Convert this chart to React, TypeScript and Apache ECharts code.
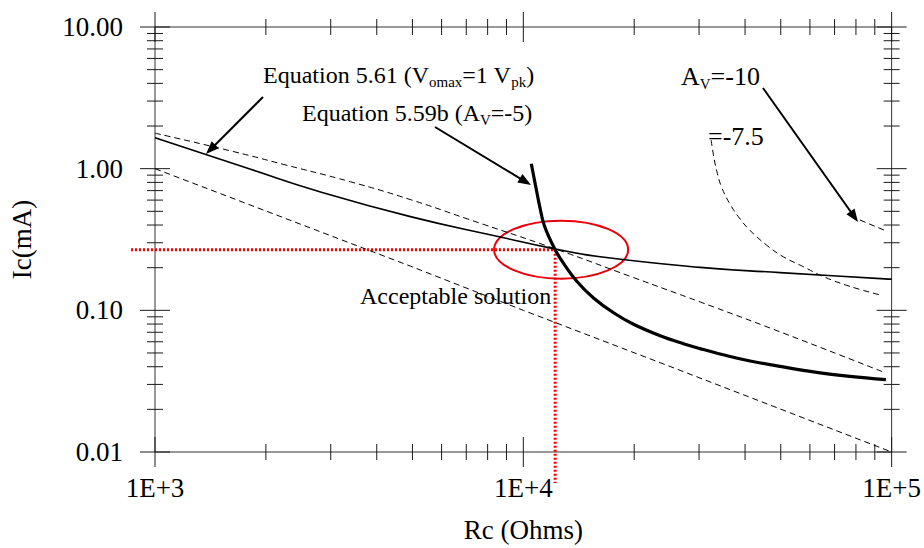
import React, { useEffect, useRef } from "react";
import * as echarts from "echarts";

const X_MIN = 1000;
const X_MAX = 100000;
const Y_MIN = 0.01;
const Y_MAX = 10;

const xMajorTicks = [1000, 10000, 100000];
const xMinorTicks = [2000, 3000, 4000, 5000, 6000, 7000, 8000, 9000, 20000, 30000, 40000, 50000, 60000, 70000, 80000, 90000];
const yMajorTicks = [0.01, 0.1, 1, 10];
const yMinorTicks = [0.02, 0.03, 0.04, 0.05, 0.06, 0.07, 0.08, 0.09, 0.2, 0.3, 0.4, 0.5, 0.6, 0.7, 0.8, 0.9, 2, 3, 4, 5, 6, 7, 8, 9];

// Equation 5.61 (Vomax = 1 Vpk) - thin solid
const rcEq561 = [1000, 1818, 2758, 4937, 8661, 12062, 16176, 30200, 49770, 95900, 100000];
const icEq561 = [1.655, 0.99, 0.696, 0.4585, 0.329, 0.2726, 0.2386, 0.201, 0.1846, 0.1668, 0.166];

// upper dashed
const rcUpper = [1000, 1638, 2239, 3395, 4937, 7036, 12157, 19918, 30200, 49770, 94900];
const icUpper = [1.78, 1.318, 1.07, 0.808, 0.605, 0.4426, 0.2726, 0.1703, 0.1146, 0.0705, 0.0367];

// lower dashed
const rcLower = [1000, 4940, 10000, 26660, 100000];
const icLower = [1.0, 0.205, 0.1, 0.0377, 0.01];

// Equation 5.59b (Av = -5) - thick
const rcEq559 = [10513, 10778, 11071, 11402, 12157, 12864, 13985, 15509, 17577, 19916, 23527, 27213, 30200, 36420, 41270, 49770, 62600, 77070, 96500];
const icEq559 = [1.083, 0.774, 0.547, 0.397, 0.2726, 0.2143, 0.1598, 0.1223, 0.0961, 0.0797, 0.0661, 0.0581, 0.0537, 0.0472, 0.0439, 0.0402, 0.0365, 0.0342, 0.0324];

// Av = -7.5 dashed
const rcAv75 = [32360, 32820, 33520, 34590, 36420, 38780, 41270, 45810, 50820, 57590, 65230, 77070, 93960];
const icAv75 = [1.593, 1.252, 0.959, 0.7335, 0.561, 0.4412, 0.3663, 0.2878, 0.2386, 0.2032, 0.1731, 0.1475, 0.1276];

// Av = -10 dashed
const rcAv10 = [82030, 95900];
const icAv10 = [0.434, 0.3663];

// acceptable solution point
const SOL_RC = 12200;
const SOL_IC = 0.268;

const SERIF = "'Liberation Serif', 'Times New Roman', serif";
const SUB = 15;

function pairs(xs: number[], ys: number[]) {
  return xs.map((x, i) => [x, ys[i]]);
}

export default function App() {
  const ref = useRef<HTMLDivElement>(null);

  useEffect(() => {
    if (!ref.current) return;
    const chart = echarts.init(ref.current, null, { renderer: "svg" });

    const canvas = document.createElement("canvas");
    const ctx = canvas.getContext("2d")!;
    const tw = (t: string, size: number) => {
      ctx.font = `${size}px 'Liberation Serif'`;
      return ctx.measureText(t).width;
    };

    const tickColor = "#1a1a1a";
    const xTickData = [...xMajorTicks.map((v) => [v, 1, 1]), ...xMinorTicks.map((v) => [v, 1, 0])];
    const yTickData = [...yMajorTicks.map((v) => [1000, v, 1]), ...yMinorTicks.map((v) => [1000, v, 0])];

    const dashed = { color: "#000", width: 1, type: [6, 4] as any };

    const option: any = {
      animation: false,
      backgroundColor: "#ffffff",
      grid: { left: 154, right: 32, top: 27, bottom: 91, show: true, borderColor: "#333", borderWidth: 1, backgroundColor: "transparent" },
      xAxis: {
        type: "log",
        logBase: 10,
        min: X_MIN,
        max: X_MAX,
        name: "Rc (Ohms)",
        nameLocation: "middle",
        nameGap: 64,
        nameTextStyle: { fontFamily: SERIF, fontSize: 27, color: "#000" },
        axisLine: { show: false },
        axisTick: { show: false },
        splitLine: { show: false },
        axisLabel: {
          fontFamily: SERIF,
          fontSize: 27,
          color: "#000",
          margin: 22,
          formatter: (v: number) => "1E+" + Math.round(Math.log10(v)),
        },
      },
      yAxis: {
        type: "log",
        logBase: 10,
        min: Y_MIN,
        max: Y_MAX,
        name: "Ic(mA)",
        nameLocation: "middle",
        nameGap: 120,
        nameTextStyle: { fontFamily: SERIF, fontSize: 27, color: "#000" },
        axisLine: { show: false },
        axisTick: { show: false },
        splitLine: { show: false },
        axisLabel: {
          fontFamily: SERIF,
          fontSize: 27,
          color: "#000",
          margin: 32,
          formatter: (v: number) => v.toFixed(2),
        },
      },
      series: [
        {
          type: "custom",
          silent: true,
          clip: false,
          encode: { x: 0, y: 1 },
          data: xTickData,
          renderItem: (_p: any, api: any) => {
            const v = api.value(0);
            const L = api.value(2) ? 15 : 8;
            const b = api.coord([v, Y_MIN]);
            const t = api.coord([v, Y_MAX]);
            return {
              type: "group",
              children: [
                { type: "line", shape: { x1: b[0], y1: b[1] - L, x2: b[0], y2: b[1] + L }, style: { stroke: tickColor, lineWidth: 1 } },
                { type: "line", shape: { x1: t[0], y1: t[1] - L, x2: t[0], y2: t[1] + L }, style: { stroke: tickColor, lineWidth: 1 } },
              ],
            };
          },
        },
        {
          type: "custom",
          silent: true,
          clip: false,
          encode: { x: 0, y: 1 },
          data: yTickData,
          renderItem: (_p: any, api: any) => {
            const v = api.value(1);
            const L = api.value(2) ? 15 : 8;
            const l = api.coord([X_MIN, v]);
            const r = api.coord([X_MAX, v]);
            return {
              type: "group",
              children: [
                { type: "line", shape: { x1: l[0] - L, y1: l[1], x2: l[0] + L, y2: l[1] }, style: { stroke: tickColor, lineWidth: 1 } },
                { type: "line", shape: { x1: r[0] - L, y1: r[1], x2: r[0] + L, y2: r[1] }, style: { stroke: tickColor, lineWidth: 1 } },
              ],
            };
          },
        },
        {
          name: "Equation 5.61",
          type: "line",
          data: pairs(rcEq561, icEq561),
          smooth: true,
          symbol: "none",
          lineStyle: { color: "#000", width: 1.6 },
        },
        {
          name: "upper",
          type: "line",
          data: pairs(rcUpper, icUpper),
          smooth: true,
          symbol: "none",
          lineStyle: dashed,
        },
        {
          name: "lower",
          type: "line",
          data: pairs(rcLower, icLower),
          smooth: false,
          symbol: "none",
          lineStyle: dashed,
        },
        {
          name: "Equation 5.59b",
          type: "line",
          data: pairs(rcEq559, icEq559),
          smooth: 0.4,
          symbol: "none",
          lineStyle: { color: "#000", width: 3.2 },
        },
        {
          name: "Av=-7.5",
          type: "line",
          data: pairs(rcAv75, icAv75),
          smooth: 0.4,
          symbol: "none",
          lineStyle: dashed,
        },
        {
          name: "Av=-10",
          type: "line",
          data: pairs(rcAv10, icAv10),
          smooth: false,
          symbol: "none",
          lineStyle: dashed,
        },
      ],
    };

    chart.setOption(option);

    const sol = chart.convertToPixel({ gridIndex: 0 }, [SOL_RC, SOL_IC]) as number[];

    const graphics: any[] = [];

    const textLine = (x: number, baseline: number, main: number, parts: [string, boolean][]) => {
      let cx = x;
      for (const [t, sub] of parts) {
        const size = sub ? SUB : main;
        const bl = sub ? baseline + 4 : baseline;
        graphics.push({
          type: "text",
          x: cx,
          y: bl - 0.3375 * size,
          silent: true,
          style: { text: t, fontSize: size, fontFamily: SERIF, fill: "#000", align: "left", verticalAlign: "middle" },
        });
        cx += tw(t, size);
      }
    };

    const arrow = (x1: number, y1: number, x2: number, y2: number) => {
      const a = Math.atan2(y2 - y1, x2 - x1);
      const L = 13;
      const W = 5;
      const c = Math.cos(a);
      const s = Math.sin(a);
      const bx = x2 - L * c;
      const by = y2 - L * s;
      graphics.push({
        type: "line",
        silent: true,
        shape: { x1, y1, x2: bx + 2 * c, y2: by + 2 * s },
        style: { stroke: "#000", lineWidth: 2 },
      });
      graphics.push({
        type: "polygon",
        silent: true,
        shape: { points: [[x2, y2], [bx + W * s, by - W * c], [bx - W * s, by + W * c]] },
        style: { fill: "#000" },
      });
    };

    textLine(263, 83, 24, [["Equation 5.61 (V", false], ["omax", true], ["=1 V", false], ["pk", true], [")", false]]);
    textLine(302, 121, 24, [["Equation 5.59b (A", false], ["V", true], ["=-5)", false]]);
    textLine(681, 85, 26, [["A", false], ["V", true], ["=-10", false]]);
    textLine(708, 145, 26, [["=-7.5", false]]);
    textLine(360, 304, 24, [["Acceptable solution", false]]);

    arrow(263, 97, 206, 154);
    arrow(435, 127, 531, 185);
    arrow(763, 88, 858, 222);

    // red dotted guide lines
    graphics.push({
      type: "line",
      silent: true,
      shape: { x1: 131, y1: sol[1], x2: sol[0], y2: sol[1] },
      style: { stroke: "#ff0000", lineWidth: 3, lineDash: [2, 2] },
    });
    graphics.push({
      type: "line",
      silent: true,
      shape: { x1: sol[0], y1: sol[1], x2: sol[0], y2: 483 },
      style: { stroke: "#ff0000", lineWidth: 3, lineDash: [2, 2] },
    });
    graphics.push({
      type: "ellipse",
      silent: true,
      shape: { cx: sol[0] + 6, cy: sol[1], rx: 67, ry: 29 },
      style: { stroke: "#e8000b", lineWidth: 2, fill: "none" },
    });

    chart.setOption({ graphic: graphics });

    return () => {
      chart.dispose();
    };
  }, []);

  return <div ref={ref} style={{ position: "fixed", left: 0, top: 0, width: 924, height: 548, background: "#fff" }} />;
}
